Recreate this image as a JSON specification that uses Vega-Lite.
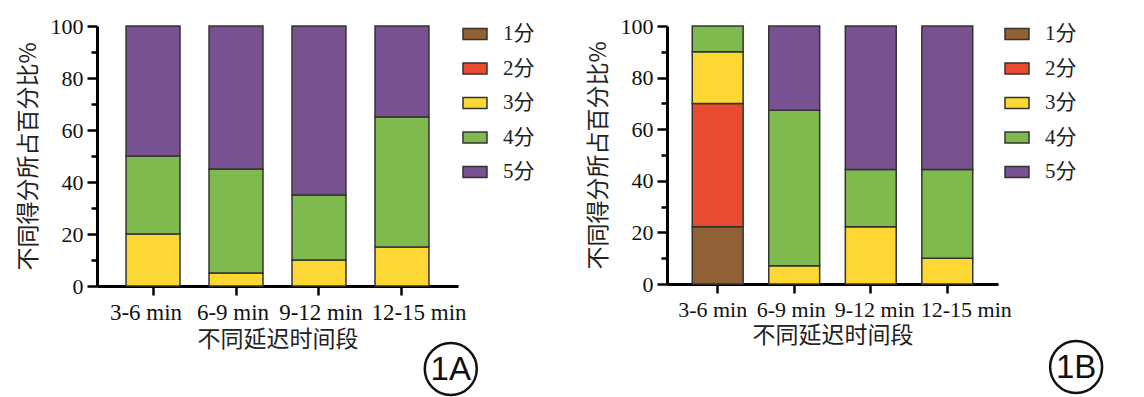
{
  "$schema": "https://vega.github.io/schema/vega-lite/v6.json",
  "padding": {"left": 17, "top": 15, "right": 0, "bottom": 0},
  "config": {
    "view": {"stroke": null},
    "axis": {
      "domainColor": "#000", "domainWidth": 3, "tickColor": "#000", "tickWidth": 2.5,
      "labelFont": "Liberation Serif", "labelColor": "#111", "grid": false,
      "titleFont": "Noto Sans CJK SC", "titleFontWeight": "normal", "titleColor": "#222", "titleFontSize": 23
    },
    "legend": {
      "labelFont": "Liberation Serif, Noto Sans CJK SC", "labelFontSize": 21, "labelColor": "#222",
      "symbolType": "M-1,-0.46H1V0.46H-1Z", "symbolSize": 576, "symbolStrokeColor": "#333", "symbolStrokeWidth": 1.5,
      "rowPadding": 11.5, "labelOffset": 15, "padding": 0
    }
  },
  "datasets": {
    "a": [
      {"period": "3-6 min", "score": "3分", "pct": 20},
      {"period": "3-6 min", "score": "4分", "pct": 30},
      {"period": "3-6 min", "score": "5分", "pct": 50},
      {"period": "6-9 min", "score": "3分", "pct": 5},
      {"period": "6-9 min", "score": "4分", "pct": 40},
      {"period": "6-9 min", "score": "5分", "pct": 55},
      {"period": "9-12 min", "score": "3分", "pct": 10},
      {"period": "9-12 min", "score": "4分", "pct": 25},
      {"period": "9-12 min", "score": "5分", "pct": 65},
      {"period": "12-15 min", "score": "3分", "pct": 15},
      {"period": "12-15 min", "score": "4分", "pct": 50},
      {"period": "12-15 min", "score": "5分", "pct": 35}
    ],
    "b": [
      {"period": "3-6 min", "score": "1分", "pct": 22.2},
      {"period": "3-6 min", "score": "2分", "pct": 47.8},
      {"period": "3-6 min", "score": "3分", "pct": 20},
      {"period": "3-6 min", "score": "4分", "pct": 10},
      {"period": "6-9 min", "score": "3分", "pct": 7.1},
      {"period": "6-9 min", "score": "4分", "pct": 60.2},
      {"period": "6-9 min", "score": "5分", "pct": 32.7},
      {"period": "9-12 min", "score": "3分", "pct": 22.2},
      {"period": "9-12 min", "score": "4分", "pct": 22.2},
      {"period": "9-12 min", "score": "5分", "pct": 55.6},
      {"period": "12-15 min", "score": "3分", "pct": 10},
      {"period": "12-15 min", "score": "4分", "pct": 34.4},
      {"period": "12-15 min", "score": "5分", "pct": 55.6}
    ],
    "ann": [
      {"panel": "A", "label": "1A", "ax": 0.98, "ay": -0.319},
      {"panel": "B", "label": "1B", "ax": 1.236, "ay": -0.322}
    ]
  },
  "spacing": 52,
  "resolve": {"legend": {"color": "independent"}},
  "hconcat": [
    {
      "width": 361, "height": 260,
      "resolve": {"scale": {"x": "independent", "y": "independent"}},
      "layer": [
        {
          "data": {"name": "a"},
          "mark": {"type": "bar", "stroke": "#333", "strokeWidth": 1.5},
          "encoding": {
            "x": {"field": "period", "type": "nominal", "sort": ["3-6 min", "6-9 min", "9-12 min", "12-15 min"],
                  "scale": {"paddingInner": 0.35, "paddingOuter": 0.35},
                  "title": "不同延迟时间段",
                  "axis": {"labelAngle": 0, "labelFontSize": 23, "tickSize": 9, "labelPadding": 6, "titlePadding": 4, "labelOverlap": false,
                           "labelOffset": {"condition": [{"test": "datum.value === '3-6 min'", "value": -7}, {"test": "datum.value === '6-9 min'", "value": -3}, {"test": "datum.value === '12-15 min'", "value": 17}], "value": 2}}},
            "y": {"field": "pct", "type": "quantitative", "stack": "zero", "scale": {"domain": [0, 100], "nice": false},
                  "title": "不同得分所占百分比%",
                  "axis": {"values": [0, 10, 20, 30, 40, 50, 60, 70, 80, 90, 100], "labelFontSize": 22, "labelPadding": 4,
                           "labelExpr": "datum.value % 20 === 0 ? datum.label : ''", "labelOverlap": false,
                           "tickSize": {"condition": {"test": "datum.value % 20 === 0", "value": 10}, "value": 6},
                           "titlePadding": 10}},
            "color": {"field": "score", "type": "nominal",
                      "scale": {"domain": ["1分", "2分", "3分", "4分", "5分"], "range": ["#8F6135", "#E84B2E", "#FDD733", "#7EBA4E", "#785290"]},
                      "legend": {"orient": "none", "legendX": 365, "legendY": -5, "title": null}},
            "order": {"field": "score", "sort": "ascending"}
          }
        },
        {
          "data": {"name": "ann"},
          "transform": [{"filter": "datum.panel === 'A'"}],
          "mark": {"type": "point", "shape": "circle", "filled": false, "size": 2704, "stroke": "#111", "strokeWidth": 2.5, "opacity": 1, "clip": false},
          "encoding": {
            "x": {"field": "ax", "type": "quantitative", "scale": {"domain": [0, 1], "nice": false}, "axis": null},
            "y": {"field": "ay", "type": "quantitative", "scale": {"domain": [0, 1], "nice": false}, "axis": null}
          }
        },
        {
          "data": {"name": "ann"},
          "transform": [{"filter": "datum.panel === 'A'"}],
          "mark": {"type": "text", "font": "Liberation Sans", "fontSize": 33, "color": "#111", "align": "center", "baseline": "middle", "dy": 1, "clip": false},
          "encoding": {
            "x": {"field": "ax", "type": "quantitative", "scale": {"domain": [0, 1], "nice": false}, "axis": null},
            "y": {"field": "ay", "type": "quantitative", "scale": {"domain": [0, 1], "nice": false}, "axis": null},
            "text": {"field": "label"}
          }
        }
      ]
    },
    {
      "width": 331, "height": 258,
      "resolve": {"scale": {"x": "independent", "y": "independent"}},
      "layer": [
        {
          "data": {"name": "b"},
          "mark": {"type": "bar", "stroke": "#333", "strokeWidth": 1.5},
          "encoding": {
            "x": {"field": "period", "type": "nominal", "sort": ["3-6 min", "6-9 min", "9-12 min", "12-15 min"],
                  "scale": {"paddingInner": 0.335, "paddingOuter": 0.33},
                  "title": "不同延迟时间段",
                  "axis": {"labelAngle": 0, "labelFontSize": 22, "tickSize": 9, "labelPadding": 6, "titlePadding": 4, "labelOverlap": false,
                           "labelOffset": {"condition": [{"test": "datum.value === '3-6 min'", "value": -5}, {"test": "datum.value === '6-9 min'", "value": -3}, {"test": "datum.value === '12-15 min'", "value": 19}], "value": 4}}},
            "y": {"field": "pct", "type": "quantitative", "stack": "zero", "scale": {"domain": [0, 100], "nice": false},
                  "title": "不同得分所占百分比%",
                  "axis": {"values": [0, 10, 20, 30, 40, 50, 60, 70, 80, 90, 100], "labelFontSize": 22, "labelPadding": 4,
                           "labelExpr": "datum.value % 20 === 0 ? datum.label : ''", "labelOverlap": false,
                           "tickSize": {"condition": {"test": "datum.value % 20 === 0", "value": 10}, "value": 6},
                           "titlePadding": 10}},
            "color": {"field": "score", "type": "nominal",
                      "scale": {"domain": ["1分", "2分", "3分", "4分", "5分"], "range": ["#8F6135", "#E84B2E", "#FDD733", "#7EBA4E", "#785290"]},
                      "legend": {"orient": "none", "legendX": 337, "legendY": -5, "title": null}},
            "order": {"field": "score", "sort": "ascending"}
          }
        },
        {
          "data": {"name": "ann"},
          "transform": [{"filter": "datum.panel === 'B'"}],
          "mark": {"type": "point", "shape": "circle", "filled": false, "size": 2704, "stroke": "#111", "strokeWidth": 2.5, "opacity": 1, "clip": false},
          "encoding": {
            "x": {"field": "ax", "type": "quantitative", "scale": {"domain": [0, 1], "nice": false}, "axis": null},
            "y": {"field": "ay", "type": "quantitative", "scale": {"domain": [0, 1], "nice": false}, "axis": null}
          }
        },
        {
          "data": {"name": "ann"},
          "transform": [{"filter": "datum.panel === 'B'"}],
          "mark": {"type": "text", "font": "Liberation Sans", "fontSize": 33, "color": "#111", "align": "center", "baseline": "middle", "dy": 1, "clip": false},
          "encoding": {
            "x": {"field": "ax", "type": "quantitative", "scale": {"domain": [0, 1], "nice": false}, "axis": null},
            "y": {"field": "ay", "type": "quantitative", "scale": {"domain": [0, 1], "nice": false}, "axis": null},
            "text": {"field": "label"}
          }
        }
      ]
    }
  ]
}
